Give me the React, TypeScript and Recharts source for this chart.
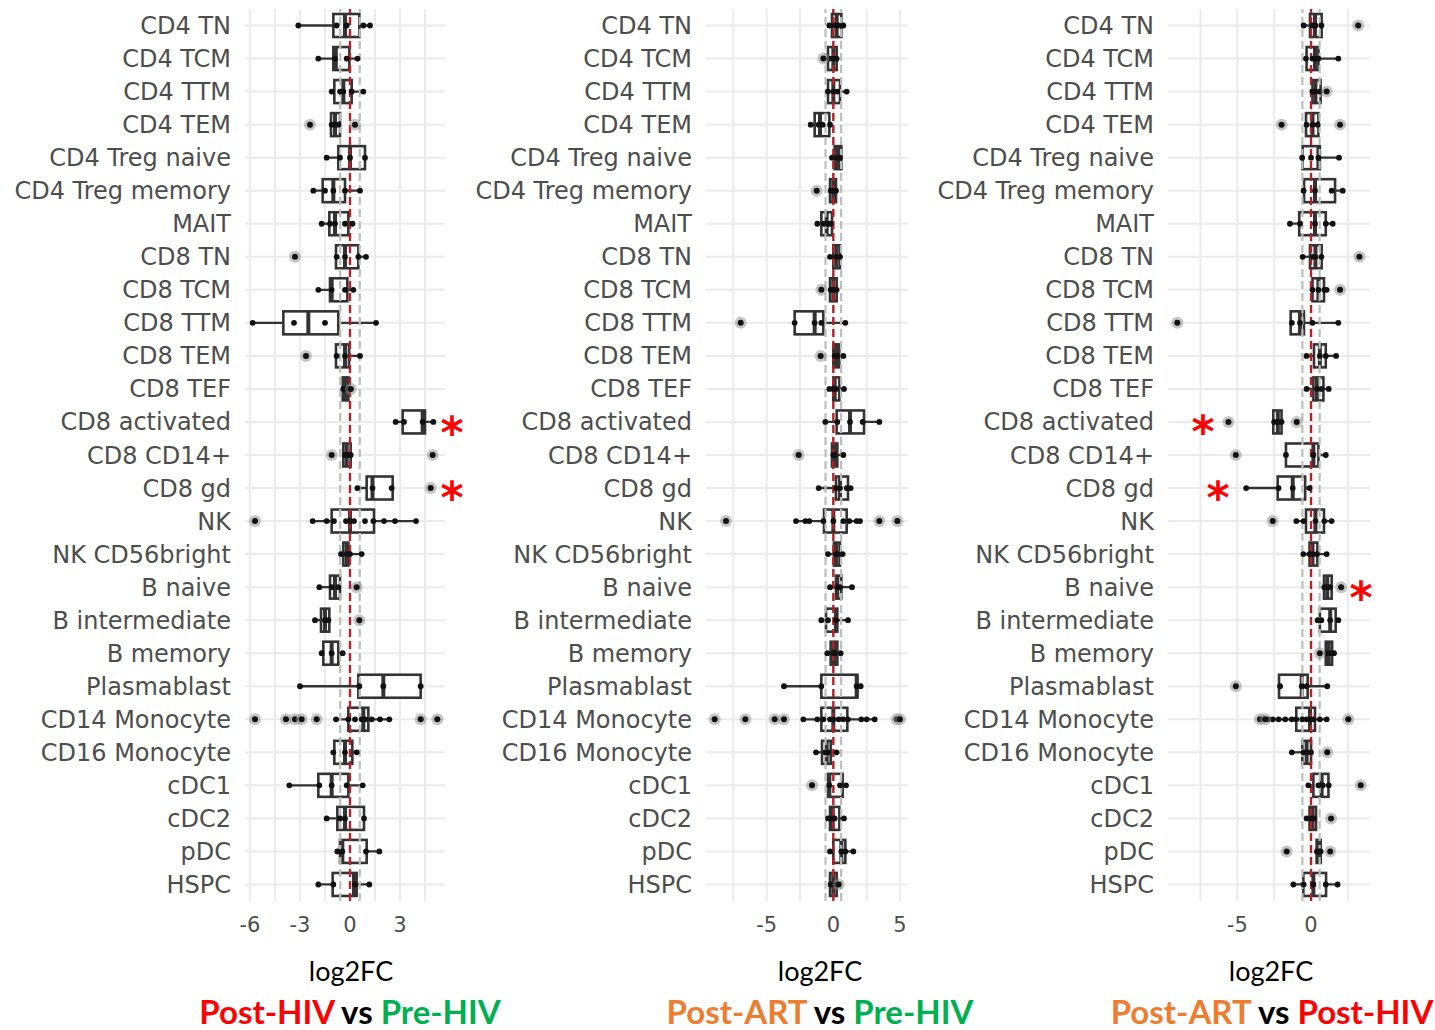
import React from 'react';
import { ComposedChart, Bar, Scatter, XAxis, YAxis, CartesianGrid, ReferenceLine } from 'recharts';

const CELL_TYPES = [
  'CD4 TN', 'CD4 TCM', 'CD4 TTM', 'CD4 TEM', 'CD4 Treg naive', 'CD4 Treg memory', 'MAIT',
  'CD8 TN', 'CD8 TCM', 'CD8 TTM', 'CD8 TEM', 'CD8 TEF', 'CD8 activated', 'CD8 CD14+', 'CD8 gd',
  'NK', 'NK CD56bright', 'B naive', 'B intermediate', 'B memory', 'Plasmablast',
  'CD14 Monocyte', 'CD16 Monocyte', 'cDC1', 'cDC2', 'pDC', 'HSPC',
];

// Post-HIV vs Pre-HIV
const hivQ1 = [-1.0, -1.0, -0.94, -1.14, -0.7, -1.64, -1.24, -0.84, -1.2, -4.0, -0.84, -0.44, 3.16, -0.4, 1.0, -1.1, -0.4, -1.2, -1.74, -1.6, 0.5, -0.1, -0.94, -1.9, -0.76, -0.6, -1.04];
const hivMed = [-0.3, -0.85, -0.4, -0.9, 0.0, -1.0, -0.9, -0.3, -1.1, -2.5, -0.3, -0.3, 4.36, -0.2, 1.35, 0.0, -0.2, -0.9, -1.5, -1.1, 2.0, 0.8, -0.3, -1.1, -0.3, -0.46, 0.24];
const hivQ3 = [0.56, -0.04, 0.1, -0.6, 0.9, -0.3, -0.1, 0.5, -0.16, -0.7, -0.06, -0.1, 4.5, 0.04, 2.56, 1.44, -0.1, -0.6, -1.24, -0.7, 4.24, 1.1, 0.14, -0.1, 0.84, 1.0, 0.4];
const hivPoints = [
  [-3.1, -0.8, -0.2, 0.8, 1.2], [-1.9, -0.9, -0.2, 0.45], [-1.1, -0.6, -0.4, 0.1, 0.8], [-1.1, -0.9, -0.7],
  [-1.4, -0.6, 0.0, 0.9], [-2.2, -1.5, -1.0, -0.3, 0.6], [-1.7, -1.2, -0.9, -0.3, 0.15], [-0.8, -0.3, 0.5, 0.96],
  [-1.9, -1.1, -0.3, 0.2], [-5.84, -3.36, -1.5, 1.56], [-0.8, -0.3, 0.6], [-0.4, -0.3], [2.74, 3.24, 4.36, 5.0],
  [-0.3, -0.1, 0.04], [0.44, 1.35, 2.5], [-2.24, -1.4, -0.96, -0.24, 0.0, 0.24, 0.9, 1.4, 2.04, 2.7, 3.96],
  [-0.54, -0.2, 0.0, 0.7], [-1.84, -1.1, -0.7], [-2.1, -1.5, -1.3], [-1.7, -1.1, -0.44], [-3.0, 0.56, 2.0, 4.24],
  [-0.84, -0.1, 0.3, 0.7, 0.9, 1.3, 1.8, 2.36], [-1.0, -0.3, 0.4], [-3.64, -1.84, -1.1, -0.2, 0.76],
  [-1.4, -0.6, -0.3, 0.84], [-0.76, -0.46, 0.96, 1.76], [-1.9, -1.0, 0.3, 1.16],
];
const hivOutliers = [
  [], [], [], [-2.4, 0.3], [], [], [], [-3.3], [], [], [-2.64], [0.05], [], [-1.1, 4.96], [4.84], [-5.7], [],
  [0.4], [0.56], [], [], [-5.7, -3.84, -3.3, -2.9, -2.0, 4.24, 5.24], [], [], [], [], [],
];

// Post-ART vs Pre-HIV
const artPreQ1 = [-0.1, -0.4, -0.4, -1.4, 0.1, -0.25, -0.9, 0.0, -0.25, -2.9, 0.0, 0.0, 0.25, -0.1, 0.2, -0.7, 0.05, 0.2, -0.55, -0.2, -0.9, -0.9, -0.85, -0.4, -0.25, 0.0, -0.25];
const artPreMed = [0.25, 0.0, 0.0, -1.0, 0.35, 0.0, -0.5, 0.25, 0.0, -1.4, 0.2, 0.1, 1.25, 0.1, 0.5, 0.0, 0.25, 0.3, 0.2, 0.05, 1.75, 0.0, -0.5, -0.3, -0.05, 0.6, 0.0];
const artPreQ3 = [0.6, 0.25, 0.5, -0.3, 0.6, 0.2, -0.1, 0.5, 0.25, -0.75, 0.45, 0.45, 2.3, 0.3, 1.1, 1.0, 0.5, 0.6, 0.3, 0.3, 1.8, 1.05, -0.2, 0.7, 0.45, 0.9, 0.25];
const artPrePoints = [
  [-0.3, 0.1, 0.4, 0.75], [-0.3, 0.0, 0.25], [-0.4, 0.0, 0.3, 1.0], [-1.7, -1.1, -0.8, -0.25], [-0.1, 0.3, 0.5],
  [-0.2, 0.0, 0.2], [-1.2, -0.7, -0.4, -0.2], [-0.25, 0.2, 0.5], [-0.2, 0.0, 0.25], [-2.9, -1.4, -0.9, 0.9],
  [0.1, 0.3, 0.75], [-0.3, 0.0, 0.2, 0.8], [-0.6, 0.3, 1.25, 2.2, 3.45], [0.0, 0.1, 0.75], [-1.1, 0.2, 0.5, 1.0, 1.3],
  [-2.8, -2.1, -1.8, -0.75, 0.0, 0.75, 1.2, 1.75, 2.0], [-0.4, 0.2, 0.3, 0.7], [-0.25, 0.3, 0.5, 1.4],
  [-0.9, -0.4, 0.2, 1.1], [-0.45, 0.0, 0.1, 0.55], [-3.7, -0.9, 1.75, 2.05],
  [-2.25, -1.2, -0.75, -0.25, 0.0, 0.4, 0.75, 1.1, 2.1, 2.5, 3.1], [-1.3, -0.6, -0.4, 0.25], [-0.3, 0.5, 0.95],
  [-0.4, -0.1, 0.1, 0.8], [-0.25, 0.6, 0.9, 1.5], [-0.2, 0.0],
];
const artPreOutliers = [
  [], [-0.75], [], [], [], [-1.25], [], [], [-0.9], [-6.95], [-0.95], [], [], [-2.6], [], [-8.05, 3.45, 4.8], [],
  [], [], [], [], [-8.9, -6.6, -4.4, -3.7, 4.75, 5.0], [], [-1.6], [], [], [0.4],
];

// Post-ART vs Post-HIV
const artHivQ1 = [-0.07, -0.3, 0.1, -0.34, -0.57, -0.47, -0.8, -0.07, 0.1, -1.38, 0.2, 0.16, -2.56, -1.7, -2.26, -0.34, -0.1, 0.88, 0.6, 1.0, -2.17, -1.0, -0.59, 0.16, -0.1, 0.38, -0.52];
const artHivMed = [0.27, 0.27, 0.3, 0.1, 0.5, 0.27, 0.27, 0.3, 0.5, -0.75, 0.6, 0.4, -2.25, 0.16, -1.24, 0.3, 0.1, 1.1, 1.3, 1.2, -0.63, -0.07, -0.3, 0.72, 0.1, 0.5, 0.16];
const artHivQ3 = [0.72, 0.5, 0.65, 0.5, 0.6, 1.63, 1.0, 0.72, 0.88, -0.48, 1.0, 0.84, -2.0, 0.5, -0.4, 0.88, 0.43, 1.4, 1.67, 1.43, -0.23, 0.27, 0.0, 1.18, 0.34, 0.66, 1.02];
const artHivPoints = [
  [-0.5, 0.1, 0.3, 0.7], [-0.34, 0.1, 0.3, 0.5, 1.85], [0.1, 0.3, 0.6], [-0.3, 0.1, 0.45], [-0.6, 0.0, 0.5, 1.9],
  [-0.5, 0.27, 1.4, 2.15], [-1.43, -0.75, 0.27, 1.0, 1.47], [-0.57, 0.1, 0.3, 0.7], [0.1, 0.5, 0.9, 1.06],
  [-1.3, -0.75, 0.1, 1.85], [-0.3, 0.6, 1.0, 1.7], [-0.3, 0.4, 0.7, 1.2], [-2.5, -2.25, -2.0], [-1.7, 0.16, 1.0],
  [-4.4, -2.2, -1.24, -0.1], [-1.0, -0.5, 0.3, 0.9, 1.4], [-0.52, -0.1, 0.1, 0.4, 1.06], [0.9, 1.1, 1.3],
  [0.45, 0.7, 1.3, 1.85], [1.1, 1.3, 1.56], [-2.1, -0.63, -0.3, 1.1],
  [-2.9, -2.6, -2.2, -1.75, -1.3, -1.0, -0.6, -0.3, -0.07, 0.15, 0.6, 1.06], [-1.3, -0.5, -0.3, 0.0],
  [-0.18, 0.5, 0.8, 1.2], [-0.3, 0.0, 0.2], [0.4, 0.5, 0.65], [-1.2, -0.5, 0.16, 1.0, 1.8],
];
const artHivOutliers = [
  [3.2], [], [1.06], [-2.0, 1.97], [], [], [], [3.28], [1.97], [-9.07], [], [], [-5.6, -0.97], [-5.1], [], [-2.6],
  [], [2.04], [], [0.6], [-5.1], [-3.46, -3.1, 2.53], [1.1], [3.37], [1.36], [-1.65, 1.3], [],
];

const FC_CUTOFF = 0.585; // log2(1.5)

function buildRows(q1, med, q3, points) {
  return CELL_TYPES.map((name, i) => ({
    name,
    whisker: [Math.min(q1[i], ...points[i]), Math.max(q3[i], ...points[i])],
    box: [q1[i], q3[i]],
    median: [q1[i], med[i]],
  }));
}

function buildPoints(points, outliers) {
  return CELL_TYPES.flatMap((name, i) => [
    ...points[i].map((v) => ({ name, v, out: false })),
    ...outliers[i].map((v) => ({ name, v, out: true })),
  ]);
}

const INK = '#333333';

const WhiskerShape = (p: any) => (
  <line x1={p.x} x2={p.x + p.width} y1={p.y + p.height / 2} y2={p.y + p.height / 2} stroke={INK} strokeWidth={2.3} />
);
const BoxShape = (p: any) => (
  <rect x={p.x} y={p.y} width={p.width} height={p.height} fill="#fff" stroke={INK} strokeWidth={2.6} />
);
const MedianShape = (p: any) => (
  <line x1={p.x + p.width} x2={p.x + p.width} y1={p.y} y2={p.y + p.height} stroke={INK} strokeWidth={4} />
);
const PointShape = (p: any) =>
  p.payload.out ? (
    <g>
      <circle cx={p.cx} cy={p.cy} r={6} fill="#8c8c8c" fillOpacity={0.5} />
      <circle cx={p.cx} cy={p.cy} r={3} fill="#111" />
    </g>
  ) : (
    <circle cx={p.cx} cy={p.cy} r={2.9} fill="#111" />
  );

function Panel({ left, width, axisWidth, domain, ticks, labels, rows, points }) {
  return (
    <div style={{ position: 'absolute', left, top: 0 }}>
      <ComposedChart width={width} height={941} layout="vertical" data={rows} margin={{ top: 9, right: 10, bottom: 0, left: 0 }}>
        <CartesianGrid stroke="#ebebeb" strokeWidth={2} syncWithTicks />
        <XAxis
          type="number"
          domain={domain}
          allowDataOverflow
          ticks={ticks}
          interval={0}
          tickFormatter={(v) => (labels.includes(v) ? String(v) : '')}
          axisLine={false}
          tickLine={false}
          tick={{ fill: '#4d4d4d', fontSize: 21 }}
          tickMargin={10}
          height={40}
        />
        <YAxis type="category" dataKey="name" width={axisWidth} interval={0} axisLine={false} tickLine={false}
          tick={{ fill: '#4d4d4d', fontSize: 24 }} tickMargin={8} />
        <YAxis yAxisId="box" type="category" dataKey="name" hide />
        <YAxis yAxisId="med" type="category" dataKey="name" hide />
        <YAxis yAxisId="pts" type="category" dataKey="name" hide allowDuplicatedCategory={false} />
        <Bar dataKey="whisker" barSize={23} shape={WhiskerShape} isAnimationActive={false} />
        <Bar yAxisId="box" dataKey="box" barSize={23} shape={BoxShape} isAnimationActive={false} />
        <Bar yAxisId="med" dataKey="median" barSize={23} shape={MedianShape} isAnimationActive={false} />
        <Scatter yAxisId="pts" data={points} dataKey="v" shape={PointShape} isAnimationActive={false} />
        <ReferenceLine x={-FC_CUTOFF} stroke="#bdbdbd" strokeWidth={2.2} strokeDasharray="8 4" />
        <ReferenceLine x={FC_CUTOFF} stroke="#bdbdbd" strokeWidth={2.2} strokeDasharray="8 4" />
        <ReferenceLine x={0} stroke="#b22222" strokeWidth={2.4} strokeDasharray="8 4" />
      </ComposedChart>
    </div>
  );
}

const RED = '#ff0000';
const GREEN = '#00b050';
const ORANGE = '#ed7d31';

export default function App() {
  return (
    <div style={{ position: 'absolute', left: 0, top: 0, width: 1435, height: 1030, background: '#fff', fontFamily: '"DejaVu Sans", sans-serif' }}>
      <Panel left={0} width={455} axisWidth={245} domain={[-6.3, 5.7]} ticks={[-6, -4.5, -3, -1.5, 0, 1.5, 3, 4.5]} labels={[-6, -3, 0, 3]}
        rows={buildRows(hivQ1, hivMed, hivQ3, hivPoints)} points={buildPoints(hivPoints, hivOutliers)} />
      <Panel left={460} width={458} axisWidth={246} domain={[-9.55, 5.6]} ticks={[-7.5, -5, -2.5, 0, 2.5, 5]} labels={[-5, 0, 5]}
        rows={buildRows(artPreQ1, artPreMed, artPreQ3, artPrePoints)} points={buildPoints(artPrePoints, artPreOutliers)} />
      <Panel left={922} width={458} axisWidth={246} domain={[-9.7, 4.0]} ticks={[-7.5, -5, -2.5, 0, 2.5]} labels={[-5, 0]}
        rows={buildRows(artHivQ1, artHivMed, artHivQ3, artHivPoints)} points={buildPoints(artHivPoints, artHivOutliers)} />
      <svg width={1435} height={1030} style={{ position: 'absolute', left: 0, top: 0, pointerEvents: 'none' }}>
        <g fontFamily="Lato, sans-serif" fontSize={27} fill="#000" textAnchor="middle">
          <text x={351} y={981}>log2FC</text>
          <text x={820} y={981}>log2FC</text>
          <text x={1271} y={981}>log2FC</text>
        </g>
        <g fontFamily="Lato, sans-serif" fontSize={33} fontWeight="bold" textAnchor="middle">
          <text x={350} y={1024}>
            <tspan fill={RED}>Post-HIV</tspan><tspan fill="#000"> vs </tspan><tspan fill={GREEN}>Pre-HIV</tspan>
          </text>
          <text x={820} y={1024}>
            <tspan fill={ORANGE}>Post-ART</tspan><tspan fill="#000"> vs </tspan><tspan fill={GREEN}>Pre-HIV</tspan>
          </text>
          <text x={1272} y={1024}>
            <tspan fill={ORANGE}>Post-ART</tspan><tspan fill="#000"> vs </tspan><tspan fill={RED}>Post-HIV</tspan>
          </text>
        </g>
        <g fontFamily='"DejaVu Sans", sans-serif' fontSize={44} fontWeight="bold" fill={RED} textAnchor="middle">
          <text x={452} y={448}>*</text>
          <text x={452} y={513}>*</text>
          <text x={1203} y={447}>*</text>
          <text x={1218} y={513}>*</text>
          <text x={1361} y={613}>*</text>
        </g>
      </svg>
    </div>
  );
}
